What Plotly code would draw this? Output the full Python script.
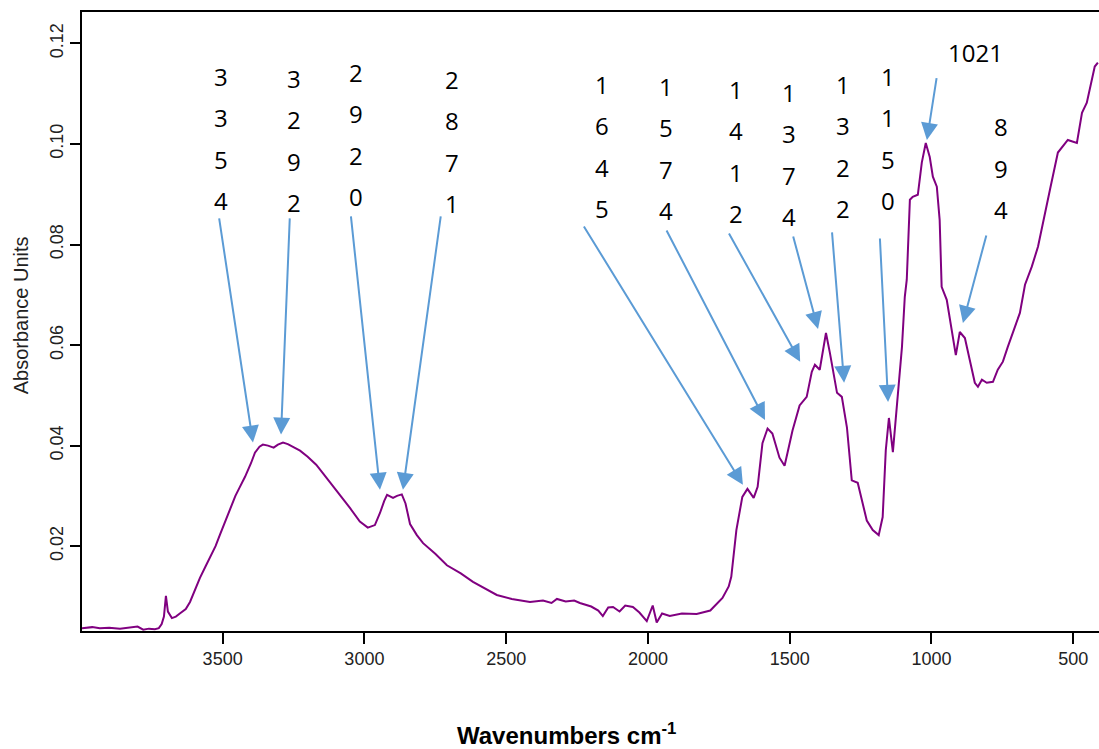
import plotly.graph_objects as go

# Spectrum (wavenumber cm-1, absorbance)
wavenumber = [3996, 3960, 3933, 3900, 3862, 3830, 3800, 3780, 3760, 3739, 3725, 3715, 3707, 3700, 3693,
              3679, 3665, 3651, 3630, 3615, 3600, 3580, 3560, 3545, 3525, 3510, 3490, 3474, 3455, 3439,
              3421, 3400, 3386, 3370, 3358, 3340, 3320, 3305, 3287, 3270, 3252, 3227, 3200, 3170, 3150,
              3122, 3100, 3086, 3051, 3016, 2988, 2963, 2945, 2930, 2920, 2899, 2885, 2868, 2855, 2839,
              2815, 2793, 2750, 2709, 2660, 2617, 2570, 2533, 2480, 2416, 2370, 2340, 2321, 2290, 2260,
              2240, 2200, 2175, 2159, 2140, 2123, 2100, 2080, 2053, 2030, 2004, 1983, 1969, 1950, 1923,
              1880, 1828, 1780, 1737, 1715, 1706, 1688, 1667, 1649, 1635, 1627, 1613, 1596, 1578, 1561,
              1536, 1518, 1508, 1490, 1465, 1440, 1422, 1411, 1394, 1372, 1358, 1333, 1316, 1298, 1281,
              1260, 1228, 1207, 1186, 1172, 1161, 1150, 1136, 1122, 1104, 1094, 1087, 1076, 1066, 1048,
              1034, 1020, 1006, 995, 981, 971, 964, 946, 928, 914, 900, 882, 865, 847, 836,
              822, 805, 783, 766, 748, 731, 713, 688, 670, 646, 624, 600, 582, 554, 519,
              487, 469, 452, 434, 424, 413]
absorbance = [0.0037, 0.0039, 0.0037, 0.0038, 0.0036, 0.0038, 0.0040, 0.0034, 0.0036, 0.0035, 0.0037, 0.0045, 0.0060, 0.0101, 0.0070,
              0.0057, 0.0060, 0.0066, 0.0075, 0.0089, 0.0110, 0.0137, 0.0160, 0.0177, 0.0200, 0.0222, 0.0250, 0.0276, 0.0300, 0.0318,
              0.0338, 0.0365, 0.0386, 0.0398, 0.0402, 0.0400, 0.0396, 0.0402, 0.0406, 0.0403, 0.0398, 0.0390, 0.0378, 0.0362, 0.0348,
              0.0328, 0.0312, 0.0302, 0.0276, 0.0249, 0.0237, 0.0242, 0.0266, 0.0290, 0.0302, 0.0296, 0.0300, 0.0303, 0.0285, 0.0244,
              0.0222, 0.0206, 0.0185, 0.0162, 0.0146, 0.0129, 0.0114, 0.0103, 0.0095, 0.0089, 0.0092, 0.0087, 0.0095, 0.0090, 0.0092,
              0.0087, 0.0080, 0.0072, 0.0061, 0.0078, 0.0079, 0.0070, 0.0082, 0.0079, 0.0068, 0.0051, 0.0082, 0.0048, 0.0066, 0.0061,
              0.0066, 0.0065, 0.0072, 0.0097, 0.0120, 0.0139, 0.0232, 0.0298, 0.0314, 0.0304, 0.0296, 0.0318, 0.0405, 0.0434, 0.0424,
              0.0376, 0.0360, 0.0385, 0.0430, 0.0480, 0.0497, 0.0547, 0.0561, 0.0551, 0.0624, 0.0584, 0.0505, 0.0497, 0.0436, 0.0331,
              0.0326, 0.0251, 0.0232, 0.0222, 0.0258, 0.0391, 0.0455, 0.0387, 0.0485, 0.0596, 0.0696, 0.0730, 0.0889, 0.0895, 0.0899,
              0.0963, 0.1002, 0.0974, 0.0935, 0.0915, 0.0849, 0.0716, 0.0690, 0.0630, 0.0580, 0.0626, 0.0614, 0.0571, 0.0525, 0.0517,
              0.0531, 0.0525, 0.0527, 0.0551, 0.0567, 0.0596, 0.0625, 0.0664, 0.0720, 0.0756, 0.0796, 0.0863, 0.0909, 0.0983, 0.1008,
              0.1002, 0.1062, 0.1082, 0.1128, 0.1154, 0.1162]

# Peak labels (stacked digits), arrow tips on the curve and arrow tails
peak_labels = ["3354", "3292", "2920", "2871", "1645", "1574", "1412", "1374", "1322", "1150", "894"]
label_x = [3505, 3249, 3030, 2691, 2162, 1935, 1691, 1503, 1312, 1153, 755]
label_top_y = [0.1134, 0.1130, 0.1142, 0.1128, 0.1118, 0.1114, 0.1108, 0.1102, 0.1118, 0.1134, 0.1034]
tip_x = [3393, 3294, 2945, 2864, 1665, 1587, 1463, 1400, 1308, 1153, 889]
tip_y = [0.0406, 0.0422, 0.0312, 0.0312, 0.0322, 0.0451, 0.0567, 0.0632, 0.0525, 0.0487, 0.0644]
tail_x = [3513, 3263, 3048, 2730, 2229, 1937, 1717, 1489, 1351, 1182, 805]
tail_y = [0.0855, 0.0855, 0.0859, 0.0859, 0.0839, 0.0831, 0.0825, 0.0819, 0.0827, 0.0815, 0.0821]

label_1021 = "1021"
label_1021_pos = (843, 0.1182)
tip_1021 = (1016, 0.1008)
tail_1021 = (981, 0.1134)

digit_step = 0.0082
x_range = [3996, 409]
y_range = [0.00313, 0.12625]

fig = go.Figure()
fig.add_trace(go.Scatter(x=wavenumber, y=absorbance, mode="lines",
                         line=dict(color="#800080", width=2), showlegend=False))

arrow_color = "#5B9BD5"
annotations = []
digit_font = dict(family="Open Sans", size=24, color="black")
for lab, lx, ly in zip(peak_labels, label_x, label_top_y):
    for i, ch in enumerate(lab):
        annotations.append(dict(x=lx, y=ly - i * digit_step, xref="x", yref="y", text=ch,
                                showarrow=False, font=digit_font, xanchor="center", yanchor="middle"))
for tx, ty, ax, ay in zip(tip_x, tip_y, tail_x, tail_y):
    annotations.append(dict(x=tx, y=ty, xref="x", yref="y", ax=ax, ay=ay, axref="x", ayref="y",
                            text="", showarrow=True, arrowhead=2, arrowsize=1.7, arrowwidth=2,
                            arrowcolor=arrow_color))
annotations.append(dict(x=label_1021_pos[0], y=label_1021_pos[1], xref="x", yref="y", text=label_1021,
                        showarrow=False, font=digit_font, xanchor="center", yanchor="middle"))
annotations.append(dict(x=tip_1021[0], y=tip_1021[1], xref="x", yref="y", ax=tail_1021[0], ay=tail_1021[1],
                        axref="x", ayref="y", text="", showarrow=True, arrowhead=2, arrowsize=1.7,
                        arrowwidth=2, arrowcolor=arrow_color))
# axis titles
annotations.append(dict(x=0.476, y=-0.166, xref="paper", yref="paper",
                        text="<b>Wavenumbers cm<sup>-1</sup></b>", showarrow=False,
                        font=dict(family="Liberation Sans", size=24, color="black"),
                        xanchor="center", yanchor="middle"))
annotations.append(dict(x=-0.06, y=0.51, xref="paper", yref="paper", text="Absorbance Units",
                        showarrow=False, textangle=-90,
                        font=dict(family="Liberation Sans", size=20, color="#222"),
                        xanchor="center", yanchor="middle"))

fig.update_layout(
    width=1099, height=749,
    margin=dict(l=82, r=0, t=12, b=118),
    paper_bgcolor="white", plot_bgcolor="white",
    annotations=annotations,
    xaxis=dict(range=x_range, tickvals=[3500, 3000, 2500, 2000, 1500, 1000, 500],
               showgrid=False, zeroline=False, showline=True, linecolor="black", linewidth=1.5,
               mirror=True, ticks="outside", ticklen=11, tickwidth=1.5, tickcolor="black",
               tickfont=dict(family="Liberation Sans", size=18, color="#222")),
    yaxis=dict(range=y_range, tickvals=[0.02, 0.04, 0.06, 0.08, 0.10, 0.12], tickformat=".2f",
               showgrid=False, zeroline=False, showline=True, linecolor="black", linewidth=1.5,
               ticks="outside", ticklen=10, tickwidth=1.5, tickcolor="black", tickangle=-90,
               tickfont=dict(family="Liberation Sans", size=18, color="#222")),
)

fig.write_html("out.html")
